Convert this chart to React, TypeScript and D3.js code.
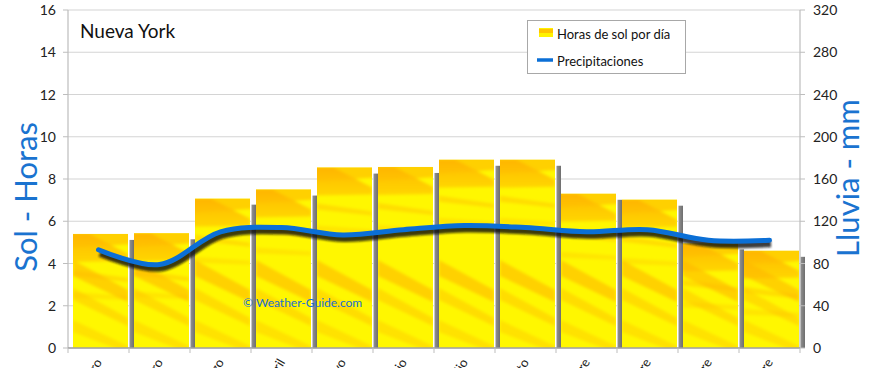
import React from "react";
import * as d3 from "d3";

const months = ["Enero", "Febrero", "Marzo", "Abril", "Mayo", "Junio", "Julio", "Agosto", "Septiembre", "Octubre", "Noviembre", "Diciembre"];
const sunHours = [5.4, 5.43, 7.07, 7.5, 8.54, 8.57, 8.91, 8.91, 7.3, 7.02, 4.95, 4.6];
const rainMm = [93, 79, 110, 114, 107, 112, 116, 114, 110, 112, 102, 102];
const leftTicks = [0, 2, 4, 6, 8, 10, 12, 14, 16];
const rightTicks = [0, 40, 80, 120, 160, 200, 240, 280, 320];

const W = 870, H = 368;
const L = 68, R = 800, T = 10, B = 348;
const FONT = "Lato, 'Open Sans', sans-serif";

export default function App() {
  const x = d3.scaleBand<string>().domain(months).range([L, R]).padding(0);
  const yL = d3.scaleLinear().domain([0, 16]).range([B, T]);
  const yR = d3.scaleLinear().domain([0, 320]).range([B, T]);
  const bw = x.bandwidth();
  const barW = bw - 6;
  const line = d3
    .line<number>()
    .x((_, i) => (x(months[i]) as number) + bw / 2)
    .y((d) => yR(d))
    .curve(d3.curveCatmullRom.alpha(0.5));
  const path = line(rainMm) || "";

  return (
    <svg width={W} height={H} style={{ position: "absolute", left: 0, top: 0, background: "#fff" }}>
      <defs>
        <linearGradient id="topG" x1="0" y1="0" x2="0" y2="1">
          <stop offset="0" stopColor="#FFB000" />
          <stop offset="1" stopColor="#FFD000" />
        </linearGradient>
        <linearGradient id="shG" x1="0" y1="0" x2="1" y2="0">
          <stop offset="0" stopColor="#e6e6e6" />
          <stop offset="0.3" stopColor="#8a8a8a" />
          <stop offset="1" stopColor="#6e6e6e" />
        </linearGradient>
        <filter id="blur" x="-10%" y="-50%" width="120%" height="200%">
          <feGaussianBlur stdDeviation="1.3" />
        </filter>
        <filter id="soft" x="-10%" y="-10%" width="120%" height="120%">
          <feGaussianBlur stdDeviation="1.5" />
        </filter>
        {months.map((m, i) => {
          const x0 = (x(m) as number) + 5;
          const top = yL(sunHours[i]);
          return (
            <clipPath id={`clip${i}`} key={m}>
              <rect x={x0} y={top} width={barW} height={B - top} />
            </clipPath>
          );
        })}
      </defs>

      {/* gridlines */}
      {leftTicks.map((t) => (
        <line key={t} x1={L} x2={R} y1={yL(t)} y2={yL(t)} stroke="#d4d4d4" strokeWidth={1.2} />
      ))}

      {/* bars */}
      {months.map((m, i) => {
        const x0 = (x(m) as number) + 5;
        const top = yL(sunHours[i]);
        const h = B - top;
        const xr = x0 + barW;
        return (
          <g key={m}>
            <rect x={xr + 1} y={top + 6} width={5} height={B - top - 6} fill="url(#shG)" />
            <rect x={x0} y={top} width={barW} height={h} fill="#FFF700" />
            <g clipPath={`url(#clip${i})`} filter="url(#soft)">
              <path d={`M${x0 - 3},${top - 3} L${xr + 3},${top - 3} L${xr + 3},${top + 10} L${x0 - 3},${top + 14} Z`} fill="#FFC600" opacity={0.8} />
              <path d={`M${x0 - 3},${top} L${x0 + barW * 0.3},${top} L${xr},${top + 20} L${xr},${top + 27} L${x0 - 3},${top + 28} Z`} fill="url(#topG)" opacity={0.85} />
              <path d={`M${x0},${top + 36} L${xr},${top + 44} L${xr},${top + 48} L${x0},${top + 42} Z`} fill="#FFCC00" opacity={0.6} />
              <path d={`M${x0},${top + 58} L${xr},${top + 62} L${xr},${top + 66} L${x0},${top + 64} Z`} fill="#FFD400" opacity={0.5} />
              <path d={`M${x0},${B - 88} L${xr},${B - 58} L${xr},${B - 46} L${x0},${B - 72} Z`} fill="#FFB800" opacity={0.6} />
              <path d={`M${x0},${B - 60} L${xr},${B - 30} L${xr},${B - 22} L${x0},${B - 48} Z`} fill="#FFC400" opacity={0.5} />
              <path d={`M${x0},${B - 28} L${xr},${B - 2} L${xr},${B + 5} L${x0},${B - 16} Z`} fill="#FFC800" opacity={0.45} />
            </g>
          </g>
        );
      })}

      {/* axes */}
      <line x1={L} x2={L} y1={T} y2={B} stroke="#bdbdbd" strokeWidth={1.2} />
      <line x1={R} x2={R} y1={T} y2={B} stroke="#bdbdbd" strokeWidth={1.2} />
      <line x1={L} x2={R} y1={B} y2={B} stroke="#a0a0a0" strokeWidth={1.4} />
      {leftTicks.map((t) => (
        <g key={t}>
          <line x1={L - 5} x2={L} y1={yL(t)} y2={yL(t)} stroke="#bdbdbd" />
          <text x={L - 12} y={yL(t) + 5} textAnchor="end" fontFamily={FONT} fontSize={14} fill="#222">{t}</text>
        </g>
      ))}
      {rightTicks.map((t) => (
        <g key={t}>
          <line x1={R} x2={R + 5} y1={yR(t)} y2={yR(t)} stroke="#bdbdbd" />
          <text x={R + 13} y={yR(t) + 5} textAnchor="start" fontFamily={FONT} fontSize={14} fill="#222">{t}</text>
        </g>
      ))}
      {months.map((m) => (
        <line key={m} x1={(x(m) as number) + bw} x2={(x(m) as number) + bw} y1={B} y2={B + 5} stroke="#bdbdbd" />
      ))}
      <line x1={L} x2={L} y1={B} y2={B + 5} stroke="#bdbdbd" />

      {/* month labels (cut off at bottom, as in the reference) */}
      {months.map((m) => {
        const cx = (x(m) as number) + bw / 2 + 4;
        return (
          <text key={m} transform={`translate(${cx},${B + 14}) rotate(-60)`} textAnchor="end" fontFamily={FONT} fontSize={13} fill="#222">{m}</text>
        );
      })}

      {/* precipitation line */}
      <path d={path} fill="none" stroke="#111" strokeWidth={7} opacity={0.8} transform="translate(1.5,3.5)" filter="url(#blur)" />
      <path d={path} fill="none" stroke="#0b6fd6" strokeWidth={5} strokeLinecap="round" />

      {/* title */}
      <text x={80} y={38} fontFamily={FONT} fontSize={19} fill="#111">Nueva York</text>

      {/* axis titles */}
      <text transform={`translate(37,197) rotate(-90)`} textAnchor="middle" fontFamily={FONT} fontSize={31} fill="#1a73d0">Sol - Horas</text>
      <text transform={`translate(859,178) rotate(-90)`} textAnchor="middle" fontFamily={FONT} fontSize={31} fill="#1a73d0">Lluvia - mm</text>

      {/* watermark */}
      <text x={243} y={307} fontFamily={FONT} fontSize={12} fill="#1a6fd0">© Weather-Guide.com</text>

      {/* legend */}
      <rect x={527.5} y={20.5} width={158} height={53} fill="#fff" stroke="#a8a8a8" />
      <rect x={539} y={28} width={14} height={9} fill="#FFF200" />
      <rect x={539} y={29} width={14} height={4} fill="#FFC400" />
      <text x={557} y={39} fontFamily={FONT} fontSize={13} fill="#111">Horas de sol por día</text>
      <line x1={537} x2={553} y1={60} y2={60} stroke="#0b6fd6" strokeWidth={3.5} />
      <text x={557} y={66} fontFamily={FONT} fontSize={13} fill="#111">Precipitaciones</text>
    </svg>
  );
}
